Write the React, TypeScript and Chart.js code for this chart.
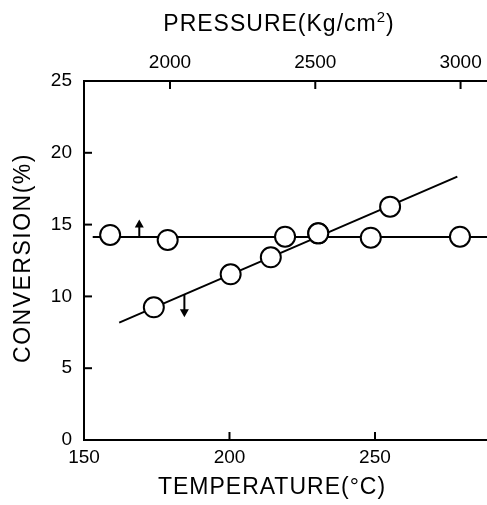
import React, { useEffect, useRef } from "react";
import { Chart, registerables } from "chart.js";

Chart.register(...registerables);

// Temperature series (bottom axis, arrow pointing down)
const tempX = [174, 200.4, 214.2, 230.5, 255.2];
const tempY = [9.24, 11.54, 12.72, 14.39, 16.25];
const tempFitX = [162.1, 278.3];
const tempFitY = [8.17, 18.34];

// Pressure series (top axis, arrow pointing up)
const pressX = [1794, 1992, 2396, 2510, 2691, 2998];
const pressY = [14.28, 13.93, 14.16, 14.39, 14.09, 14.16];
const pressFitX = [1734, 3120];
const pressFitY = [14.14, 14.14];

// Tick labels
const xTicks = [150, 200, 250];
const yTicks = [0, 5, 10, 15, 20, 25];
const pTicks = [2000, 2500, 3000];

// Arrow markers (temperature coordinates)
const upArrow = { x: 169.0, from: 14.14, to: 15.35 };
const downArrow = { x: 184.5, from: 10.1, to: 8.55 };

const FONT = "'Liberation Sans', Arial, sans-serif";

const overlay = {
  id: "overlay",
  afterDatasetsDraw(chart: any) {
    const ctx = chart.ctx;
    const { x, y, x2 } = chart.scales;
    const area = chart.chartArea;
    ctx.save();
    ctx.strokeStyle = "#000";
    ctx.fillStyle = "#000";
    ctx.lineWidth = 2;
    // inward tick marks
    const tl = 8;
    yTicks.forEach((v) => {
      const py = y.getPixelForValue(v);
      ctx.beginPath();
      ctx.moveTo(area.left, py);
      ctx.lineTo(area.left + tl, py);
      ctx.stroke();
    });
    xTicks.forEach((v) => {
      const px = x.getPixelForValue(v);
      ctx.beginPath();
      ctx.moveTo(px, area.bottom);
      ctx.lineTo(px, area.bottom - tl);
      ctx.stroke();
    });
    pTicks.forEach((v) => {
      const px = x2.getPixelForValue(v);
      ctx.beginPath();
      ctx.moveTo(px, area.top);
      ctx.lineTo(px, area.top + tl);
      ctx.stroke();
    });
    // arrows
    [upArrow, downArrow].forEach((a) => {
      const px = x.getPixelForValue(a.x);
      const p0 = y.getPixelForValue(a.from);
      const p1 = y.getPixelForValue(a.to);
      const dir = p1 < p0 ? -1 : 1;
      ctx.beginPath();
      ctx.moveTo(px, p0);
      ctx.lineTo(px, p1 - dir * 6);
      ctx.stroke();
      ctx.beginPath();
      ctx.moveTo(px, p1);
      ctx.lineTo(px - 4.5, p1 - dir * 8);
      ctx.lineTo(px + 4.5, p1 - dir * 8);
      ctx.closePath();
      ctx.fill();
    });
    // axis titles
    ctx.textBaseline = "middle";
    const big = `23px ${FONT}`;
    const small = `15px ${FONT}`;
    (ctx as any).letterSpacing = "1px";
    // top title with superscript
    const partA = "PRESSURE(Kg/cm";
    const partS = "2";
    const partB = ")";
    ctx.font = big;
    const wA = ctx.measureText(partA).width;
    const wB = ctx.measureText(partB).width;
    ctx.font = small;
    const wS = ctx.measureText(partS).width;
    let sx = 279 - (wA + wS + wB) / 2;
    ctx.textAlign = "left";
    ctx.font = big;
    ctx.fillText(partA, sx, 25);
    sx += wA;
    ctx.font = small;
    ctx.fillText(partS, sx, 18);
    sx += wS;
    ctx.font = big;
    ctx.fillText(partB, sx, 25);
    // bottom title
    ctx.textAlign = "center";
    ctx.fillText("TEMPERATURE(°C)", 272, 488);
    // left title
    (ctx as any).letterSpacing = "1.5px";
    ctx.translate(24, 258);
    ctx.rotate(-Math.PI / 2);
    ctx.fillText("CONVERSION(%)", 0, 0);
    ctx.restore();
  },
};

const noPad = (s: any) => {
  s.paddingLeft = 0;
  s.paddingRight = 0;
  s.paddingTop = 0;
  s.paddingBottom = 0;
};

export default function App() {
  const ref = useRef<HTMLCanvasElement>(null);
  useEffect(() => {
    document.body.style.margin = "0";
    const pt = (xs: number[], ys: number[]) => xs.map((v, i) => ({ x: v, y: ys[i] }));
    const pointStyle = {
      showLine: false,
      pointRadius: 10,
      pointBorderWidth: 2,
      pointBackgroundColor: "#fff",
      pointBorderColor: "#000",
      borderColor: "#000",
      backgroundColor: "#fff",
    };
    const lineStyle = {
      showLine: true,
      pointRadius: 0,
      borderColor: "#000",
      borderWidth: 2,
      fill: false,
    };
    const tickFont = { family: FONT, size: 19 };
    const plain = (v: any) => String(v);
    const chart = new Chart(ref.current!, {
      type: "scatter",
      data: {
        datasets: [
          { label: "Temperature", data: pt(tempX, tempY), xAxisID: "x", yAxisID: "y", ...pointStyle },
          { label: "Pressure", data: pt(pressX, pressY), xAxisID: "x2", yAxisID: "y", ...pointStyle },
          { label: "Temperature fit", data: pt(tempFitX, tempFitY), xAxisID: "x", yAxisID: "y", ...lineStyle },
          { label: "Pressure fit", data: pt(pressFitX, pressFitY), xAxisID: "x2", yAxisID: "y", ...lineStyle },
        ],
      } as any,
      options: {
        responsive: false,
        animation: false,
        layout: { padding: 0, autoPadding: false },
        plugins: { legend: { display: false }, tooltip: { enabled: false }, title: { display: false } },
        scales: {
          x: {
            type: "linear",
            position: "bottom",
            min: 150,
            max: 288.5,
            afterBuildTicks: (s: any) => { s.ticks = xTicks.map((v) => ({ value: v })); },
            afterFit: (s: any) => { s.height = 65; noPad(s); },
            grid: { drawOnChartArea: false, drawTicks: false },
            border: { display: true, color: "#000", width: 2 },
            ticks: { color: "#000", font: tickFont, padding: 6, maxRotation: 0, callback: plain },
          },
          x2: {
            type: "linear",
            position: "top",
            min: 1704,
            max: 3091,
            afterBuildTicks: (s: any) => { s.ticks = pTicks.map((v) => ({ value: v })); },
            afterFit: (s: any) => { s.height = 81; noPad(s); },
            grid: { drawOnChartArea: false, drawTicks: false },
            border: { display: true, color: "#000", width: 2 },
            ticks: { color: "#000", font: tickFont, padding: 7, maxRotation: 0, callback: plain },
          },
          y: {
            type: "linear",
            position: "left",
            min: 0,
            max: 25,
            afterBuildTicks: (s: any) => { s.ticks = yTicks.map((v) => ({ value: v })); },
            afterFit: (s: any) => { s.width = 84; noPad(s); },
            grid: { drawOnChartArea: false, drawTicks: false },
            border: { display: true, color: "#000", width: 2 },
            ticks: { color: "#000", font: tickFont, padding: 12, callback: plain },
          },
        },
      } as any,
      plugins: [overlay],
    });
    return () => chart.destroy();
  }, []);
  return <canvas ref={ref} width={487} height={505} style={{ display: "block" }} />;
}
